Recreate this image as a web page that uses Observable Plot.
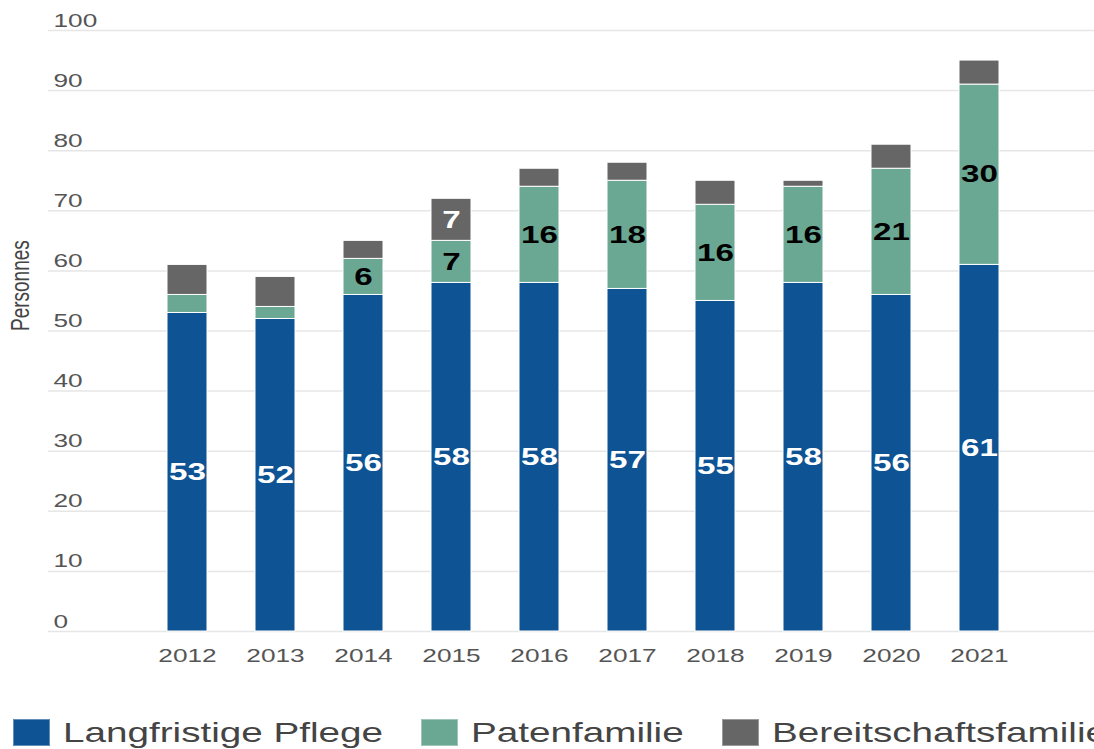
<!DOCTYPE html>
<html><head><meta charset="utf-8">
<script src="https://cdn.jsdelivr.net/npm/d3@7"></script>
<script src="https://cdn.jsdelivr.net/npm/@observablehq/plot@0.6"></script>
<style>
body{margin:0;background:#fff;font-family:"Liberation Sans",Arial,Helvetica,sans-serif;}
#chart{width:1094px;height:749px;overflow:hidden;position:relative;background:#fff}
#legend{height:59px;display:flex;align-items:flex-start;padding-left:13px;padding-top:29px;box-sizing:border-box;white-space:nowrap}
.item{display:flex;align-items:center;height:27px;flex:none}
.sw{width:37px;height:27px;box-sizing:border-box;border:1px solid rgba(255,255,255,0.35);margin-right:13px;flex:none}
.lab{display:inline-block;font-size:28px;color:#444;transform:scaleX(1.38);transform-origin:left center;line-height:27px}
</style></head><body><div id="chart"></div>
<script>
const years = ["2012","2013","2014","2015","2016","2017","2018","2019","2020","2021"];
const langfristige = [53,52,56,58,58,57,55,58,56,61];
const patenfamilie = [3,2,6,7,16,18,16,16,21,30];
const bereitschaft = [5,5,3,7,3,3,4,1,4,4];
const seriesNames = ["Langfristige Pflege","Patenfamilie","Bereitschaftsfamilie"];
const seriesColors = ["#0e5394","#6aa894","#666666"];
const labelColors = ["#ffffff","#000000","#ffffff"];
const yTicks = [0,10,20,30,40,50,60,70,80,90,100];
const yLabel = "Personnes";

const seriesValues = [langfristige, patenfamilie, bereitschaft];
const data = [];
seriesNames.forEach((s, i) => years.forEach((y, j) => data.push({year: y, series: s, value: seriesValues[i][j]})));

const SX = 1.38;
const labelMarks = seriesNames.map((s, i) =>
  Plot.text(data, Plot.stackY({
    x: "year", y: "value", z: "series", order: seriesNames,
    text: d => (d.series === s && d.value >= 6) ? String(d.value) : "",
    fill: labelColors[i], fontSize: 24, fontWeight: "bold"
  }))
);

const svg = Plot.plot({
  width: 1094, height: 690,
  marginLeft: 48, marginRight: 0, marginTop: 30, marginBottom: 59,
  style: {fontFamily: '"Liberation Sans", Arial, sans-serif', background: "#fff"},
  x: {type: "band", domain: years, paddingInner: 0.548, paddingOuter: 1.18, align: 0.555, axis: null},
  y: {domain: [0, 100], axis: null},
  color: {domain: seriesNames, range: seriesColors},
  marks: [
    Plot.ruleY(yTicks, {stroke: "#e6e6e6", strokeWidth: 1.5}),
    Plot.text(yTicks, {y: d => d, frameAnchor: "left", textAnchor: "start", lineAnchor: "bottom", dx: 5, dy: -4, fontSize: 19, fill: "#555", text: d => String(d)}),
    Plot.text(years, {x: d => d, frameAnchor: "bottom", lineAnchor: "top", dy: 17, fontSize: 19, fill: "#555", text: d => d}),
    Plot.text([yLabel], {frameAnchor: "left", rotate: -90, dx: -28, fontSize: 19, fill: "#444", text: d => d}),
    Plot.barY(data, {x: "year", y: "value", fill: "series", order: seriesNames, stroke: "#ffffff", strokeWidth: 1}),
    ...labelMarks
  ]
});

svg.querySelectorAll("text").forEach(t => {
  const tr = t.getAttribute("transform") || "";
  if (tr.includes("rotate")) t.setAttribute("transform", tr.replace("rotate", `scale(${SX},1) rotate`));
  else t.setAttribute("transform", (tr + ` scale(${SX},1)`).trim());
});

const chart = document.getElementById("chart");
chart.appendChild(svg);

const legend = document.createElement("div");
legend.id = "legend";
chart.appendChild(legend);
seriesNames.forEach((s, i) => {
  const item = document.createElement("div");
  item.className = "item";
  const sw = document.createElement("div");
  sw.className = "sw";
  sw.style.background = seriesColors[i];
  const lab = document.createElement("span");
  lab.className = "lab";
  lab.textContent = s;
  item.appendChild(sw);
  item.appendChild(lab);
  legend.appendChild(item);
  const w = lab.offsetWidth;
  lab.style.marginRight = (w * (SX - 1) + 38) + "px";
});
</script>
</body></html>
